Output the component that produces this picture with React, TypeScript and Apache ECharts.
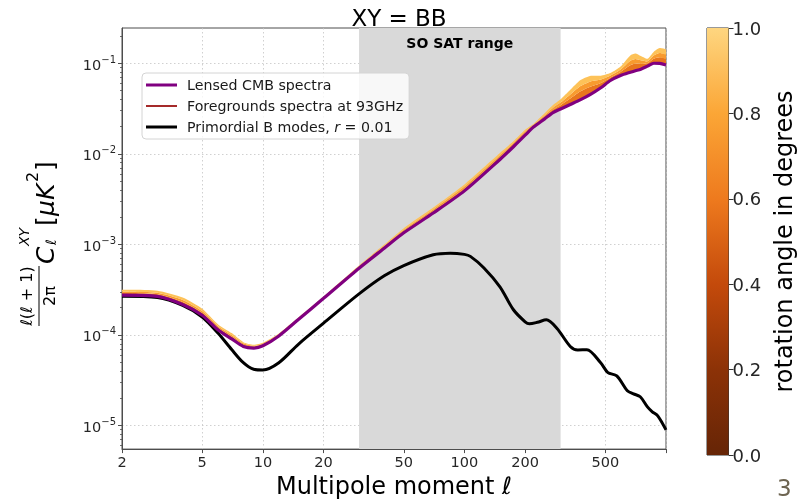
import React, { useEffect, useRef } from 'react';
import * as echarts from 'echarts';

// Multipole grid used by the lensed spectrum and the rotated (fan) spectra
const ell = [2, 3, 4, 5, 6, 7, 8, 9, 10, 12, 15, 20, 30, 40, 50, 70, 100, 150, 175, 200, 220, 250, 275, 300, 335, 375, 420, 475, 530, 595, 665, 705, 750, 810, 870, 930, 1000];

// Lensed CMB BB (rotation 0 deg, purple line)
const lensedBB = [2.75e-4, 2.67e-4, 2.17e-4, 1.65e-4, 1.134e-4, 9.06e-5, 7.48e-5, 7.18e-5, 7.61e-5, 9.77e-5, 1.484e-4, 2.54e-4, 5.47e-4, 9.08e-4, 1.343e-3, 2.22e-3, 3.9e-3, 8.67e-3, 1.198e-2, 1.605e-2, 1.974e-2, 2.43e-2, 2.85e-2, 3.13e-2, 3.51e-2, 3.94e-2, 4.5e-2, 5.36e-2, 6.45e-2, 7.32e-2, 7.96e-2, 8.28e-2, 8.61e-2, 9.29e-2, 1.0e-1, 9.96e-2, 9.58e-2];

// Rotated spectra (estimated) at 0.6, 0.8 and 1.0 degree
const rotated06 = [2.9e-4, 2.82e-4, 2.32e-4, 1.76e-4, 1.2e-4, 9.6e-5, 7.8e-5, 7.4e-5, 7.8e-5, 1.0e-4, 1.51e-4, 2.58e-4, 5.607e-4, 9.393e-4, 1.403e-3, 2.339e-3, 4.15e-3, 9.23e-3, 1.264e-2, 1.693e-2, 2.034e-2, 2.563e-2, 3.066e-2, 3.443e-2, 4.082e-2, 4.862e-2, 5.49e-2, 6.058e-2, 6.936e-2, 7.997e-2, 9.486e-2, 9.907e-2, 9.83e-2, 9.978e-2, 1.1224e-1, 1.1666e-1, 1.1243e-1];
const rotated08 = [3.01e-4, 2.93e-4, 2.44e-4, 1.84e-4, 1.25e-4, 1.0e-4, 8.1e-5, 7.6e-5, 7.9e-5, 1.017e-4, 1.53e-4, 2.62e-4, 5.713e-4, 9.637e-4, 1.45e-3, 2.431e-3, 4.35e-3, 9.67e-3, 1.314e-2, 1.762e-2, 2.08e-2, 2.667e-2, 3.234e-2, 3.687e-2, 4.528e-2, 5.578e-2, 6.26e-2, 6.602e-2, 7.314e-2, 8.523e-2, 1.0674e-1, 1.1173e-1, 1.078e-1, 1.0512e-1, 1.2176e-1, 1.2994e-1, 1.2537e-1];
const rotated10 = [3.15e-4, 3.08e-4, 2.59e-4, 1.95e-4, 1.31e-4, 1.05e-4, 8.34e-5, 7.8e-5, 8.2e-5, 1.04e-4, 1.56e-4, 2.66e-4, 5.85e-4, 9.95e-4, 1.51e-3, 2.55e-3, 4.6e-3, 1.023e-2, 1.38e-2, 1.85e-2, 2.14e-2, 2.8e-2, 3.45e-2, 4.0e-2, 5.1e-2, 6.5e-2, 7.25e-2, 7.3e-2, 7.8e-2, 9.2e-2, 1.22e-1, 1.28e-1, 1.2e-1, 1.12e-1, 1.34e-1, 1.47e-1, 1.42e-1];
const fanColors = ['#e8761d', '#f89b2f', '#fdc258'];

// Primordial B modes, r = 0.01
const primordialEll = [2, 3, 4, 5, 6, 7, 8, 9, 10, 12, 15, 20, 30, 40, 50, 70, 85, 100, 107, 125, 150, 175, 200, 210, 230, 255, 288, 335, 365, 405, 474, 515, 570, 643, 690, 745, 809, 855, 910, 1000];
const primordialBB = [2.68e-4, 2.59e-4, 2.12e-4, 1.58e-4, 1.045e-4, 6.9e-5, 4.94e-5, 4.18e-5, 4.11e-5, 4.94e-5, 7.9e-5, 1.35e-4, 2.84e-4, 4.5e-4, 5.85e-4, 7.69e-4, 8.0e-4, 7.76e-4, 7.38e-4, 5.5e-4, 3.4e-4, 1.9e-4, 1.4e-4, 1.33e-4, 1.38e-4, 1.47e-4, 1.18e-4, 7.48e-5, 6.85e-5, 6.89e-5, 4.94e-5, 3.85e-5, 3.54e-5, 2.43e-5, 2.24e-5, 2.08e-5, 1.61e-5, 1.42e-5, 1.28e-5, 8.96e-6];

const xTickValues = [2, 5, 10, 20, 50, 100, 200, 500];
const xTickMarks = [2, 5, 10, 20, 50, 100, 200, 500, 1000];
const yTickValues = [1e-5, 1e-4, 1e-3, 1e-2, 1e-1];
const soSatRange = [30, 300];
const colorbarStops = [
  [0, '#662506'], [0.2, '#8c3207'], [0.4, '#c44a0b'], [0.6, '#ee7a1e'], [0.8, '#fba636'], [1, '#fed680'],
];

const FONT = 'DejaVu Sans';

export default function App() {
  const ref = useRef<HTMLDivElement>(null);
  useEffect(() => {
    const chart = echarts.init(ref.current!, null, { renderer: 'svg' });
    const pairs = (xs: number[], ys: number[]) => xs.map((x, i) => [x, ys[i]]);
    const fanLayers = [lensedBB, rotated06, rotated08, rotated10];
    const yMinor: number[] = [];
    for (let e = -6; e <= -1; e++) for (let m = 2; m <= 9; m++) {
      const v = m * Math.pow(10, e);
      if (v > 5.5e-6 && v < 0.245) yMinor.push(v);
    }
    const lineIcon = (h: number) => `path://M0,0 M31,14 M0,${7 - h / 2} L31,${7 - h / 2} L31,${7 + h / 2} L0,${7 + h / 2} Z`;
    const yMin = 5.5e-6, yMax = 0.245;

    const option: any = {
      animation: false,
      title: {
        text: 'XY = BB', left: 394, top: 1, textAlign: 'center',
        textStyle: { fontSize: 23, fontWeight: 'normal', color: '#000', fontFamily: FONT },
      },
      legend: {
        orient: 'vertical', left: 142, top: 73,
        padding: [5, 6, 5, 4], itemGap: 7, itemWidth: 31, itemHeight: 14,
        backgroundColor: 'rgba(255,255,255,0.8)', borderColor: '#d4d4d4', borderWidth: 1, borderRadius: 4,
        itemStyle: { borderWidth: 0 },
        data: [
          { name: 'Lensed CMB spectra', icon: lineIcon(3) },
          { name: 'Foregrounds spectra at 93GHz', icon: lineIcon(2) },
          { name: 'Primordial B modes, r = 0.01', icon: lineIcon(3) },
        ],
        formatter: (n: string) => n.startsWith('Primordial') ? '{t|Primordial B modes, }{i|r}{t| = 0.01}' : '{t|' + n + '}',
        textStyle: {
          fontSize: 14.2, color: '#1a1a1a', fontFamily: FONT, padding: [0, 0, 0, 5],
          rich: {
            t: { fontSize: 14.2, color: '#1a1a1a', fontFamily: FONT },
            i: { fontSize: 14.2, color: '#1a1a1a', fontFamily: FONT, fontStyle: 'italic' },
          },
        },
      },
      grid: [
        { left: 122, top: 28, width: 544, height: 428, show: true, borderColor: '#4d4d4d', borderWidth: 1, backgroundColor: 'transparent' },
        { left: 707, top: 28, width: 21.5, height: 427, show: true, borderColor: '#333', borderWidth: 1 },
      ],
      xAxis: [
        {
          type: 'log', logBase: 10, min: 2, max: 1000, gridIndex: 0, z: 1,
          axisLine: { show: true, lineStyle: { color: '#4d4d4d' } },
          axisTick: { show: true, customValues: xTickMarks, length: 4, lineStyle: { color: '#4d4d4d' } },
          axisLabel: { customValues: xTickValues, formatter: (v: number) => String(Math.round(v)), fontSize: 14.5, color: '#262626', fontFamily: FONT, margin: 5 },
          splitLine: { show: true, lineStyle: { color: '#c4c4c4', type: [1.5, 2.5], width: 0.8 } },
          name: 'Multipole moment ℓ', nameLocation: 'middle', nameGap: 20,
          nameTextStyle: { fontSize: 24, color: '#000', fontFamily: FONT },
        },
        { type: 'category', gridIndex: 1, data: ['c'], show: false },
      ],
      yAxis: [
        {
          type: 'log', logBase: 10, min: yMin, max: yMax, gridIndex: 0, z: 1,
          axisLine: { show: true, lineStyle: { color: '#4d4d4d' } },
          axisTick: { show: true, customValues: yTickValues, length: 4, lineStyle: { color: '#4d4d4d' } },
          axisLabel: {
            customValues: yTickValues, margin: 6,
            formatter: (v: number) => `{b|10}{s|−${Math.round(-Math.log10(v))}}`,
            rich: {
              b: { fontSize: 14.5, color: '#262626', fontFamily: FONT, lineHeight: 18, verticalAlign: 'bottom' },
              s: { fontSize: 10, color: '#262626', fontFamily: FONT, lineHeight: 10, verticalAlign: 'top' },
            },
          },
          splitLine: { show: true, lineStyle: { color: '#c4c4c4', type: [1.5, 2.5], width: 0.8 } },
        },
        {
          type: 'log', logBase: 10, min: yMin, max: yMax, gridIndex: 0, position: 'left', z: 1,
          axisLine: { show: false },
          axisTick: { show: true, customValues: yMinor, length: 2, lineStyle: { color: '#4d4d4d', width: 0.8 } },
          axisLabel: { show: false },
          splitLine: { show: false },
        },
        {
          type: 'value', gridIndex: 1, min: 0, max: 1, interval: 0.2, position: 'right',
          axisLine: { show: false },
          axisTick: { show: true, length: 5, lineStyle: { color: '#333' } },
          axisLabel: { fontSize: 18, color: '#262626', fontFamily: FONT, margin: 4, formatter: (v: number) => v.toFixed(1) },
          splitLine: { show: false },
          name: 'rotation angle in degrees', nameLocation: 'middle', nameRotate: 90, nameGap: 43,
          nameTextStyle: { fontSize: 24, color: '#000', fontFamily: FONT },
        },
      ],
      series: [
        {
          name: 'Foregrounds spectra at 93GHz', type: 'line', data: [], symbol: 'none',
          color: '#a52a2a', lineStyle: { color: '#a52a2a', width: 2 }, z: 0,
          markArea: {
            silent: true,
            itemStyle: { color: '#d9d9d9' },
            label: { show: true, position: 'insideTop', distance: 8, fontSize: 14, fontWeight: 'bold', color: '#000', fontFamily: FONT },
            data: [[{ xAxis: soSatRange[0], name: 'SO SAT range' }, { xAxis: soSatRange[1] }]],
          },
        },
        {
          name: 'fan', type: 'custom', xAxisIndex: 0, yAxisIndex: 0, z: 2, silent: true, clip: true,
          encode: { x: 0, y: 1 },
          data: [[ell[0], lensedBB[0], 0], [ell[0], lensedBB[0], 1], [ell[0], lensedBB[0], 2]],
          renderItem: (params: any, api: any) => {
            const k = api.value(2);
            const lower = fanLayers[k], upper = fanLayers[k + 1];
            const top = ell.map((l, i) => api.coord([l, upper[i]]));
            const bottom = ell.map((l, i) => api.coord([l, lower[i]])).reverse();
            const cs = params.coordSys;
            return {
              type: 'polygon',
              shape: { points: top.concat(bottom), smooth: 0.2, smoothConstraint: [[cs.x, cs.y], [cs.x + cs.width, cs.y + cs.height]] },
              style: { fill: fanColors[k], stroke: null },
            };
          },
        },
        {
          name: 'Primordial B modes, r = 0.01', type: 'line', data: pairs(primordialEll, primordialBB), symbol: 'none', smooth: 0.3,
          color: '#000', lineStyle: { color: '#000', width: 3 }, z: 3,
        },
        {
          name: 'Lensed CMB spectra', type: 'line', data: pairs(ell, lensedBB), symbol: 'none', smooth: 0.25,
          color: '#800080', lineStyle: { color: '#800080', width: 3.2 }, z: 4,
        },
        {
          name: 'colorbar', type: 'bar', xAxisIndex: 1, yAxisIndex: 2, data: [1], barWidth: '100%', silent: true,
          itemStyle: {
            color: new echarts.graphic.LinearGradient(0, 1, 0, 0, colorbarStops.map(([o, c]) => ({ offset: o as number, color: c as string }))),
          },
        },
      ],
      graphic: [
        {
          type: 'group', x: 54, y: 336, rotation: Math.PI / 2,
          children: [
            { type: 'text', x: 40, y: -28, style: { text: 'ℓ(ℓ + 1)', fontSize: 16, fontFamily: FONT, fill: '#000', align: 'center', verticalAlign: 'middle' } },
            { type: 'line', shape: { x1: 10, y1: -15, x2: 70, y2: -15 }, style: { stroke: '#000', lineWidth: 1 } },
            { type: 'text', x: 40, y: -5, style: { text: '2π', fontSize: 16, fontFamily: FONT, fill: '#000', align: 'center', verticalAlign: 'middle' } },
            { type: 'text', x: 72, y: -9, style: { text: 'C', fontSize: 25, fontFamily: FONT, fontStyle: 'italic', fill: '#000', align: 'left', verticalAlign: 'middle' } },
            { type: 'text', x: 90, y: -30, style: { text: 'XY', fontSize: 14, fontFamily: FONT, fontStyle: 'italic', fill: '#000', align: 'left', verticalAlign: 'middle' } },
            { type: 'text', x: 91, y: -3, style: { text: 'ℓ', fontSize: 14, fontFamily: FONT, fill: '#000', align: 'left', verticalAlign: 'middle' } },
            { type: 'text', x: 110, y: -9, style: { text: '[', fontSize: 25, fontFamily: FONT, fill: '#000', align: 'left', verticalAlign: 'middle' } },
            { type: 'text', x: 120, y: -9, style: { text: 'μK', fontSize: 25, fontFamily: FONT, fontStyle: 'italic', fill: '#000', align: 'left', verticalAlign: 'middle' } },
            { type: 'text', x: 154, y: -22, style: { text: '2', fontSize: 16, fontFamily: FONT, fill: '#000', align: 'left', verticalAlign: 'middle' } },
            { type: 'text', x: 165, y: -9, style: { text: ']', fontSize: 25, fontFamily: FONT, fill: '#000', align: 'left', verticalAlign: 'middle' } },
          ],
        },
        {
          type: 'text', x: 777, y: 476,
          style: { text: '3', fontSize: 23, fontFamily: FONT, fill: '#6e6552', align: 'left', verticalAlign: 'top' },
        },
      ],
    };
    chart.setOption(option);
    return () => chart.dispose();
  }, []);
  return <div ref={ref} style={{ position: 'fixed', left: 0, top: 0, width: 800, height: 503 }} />;
}
